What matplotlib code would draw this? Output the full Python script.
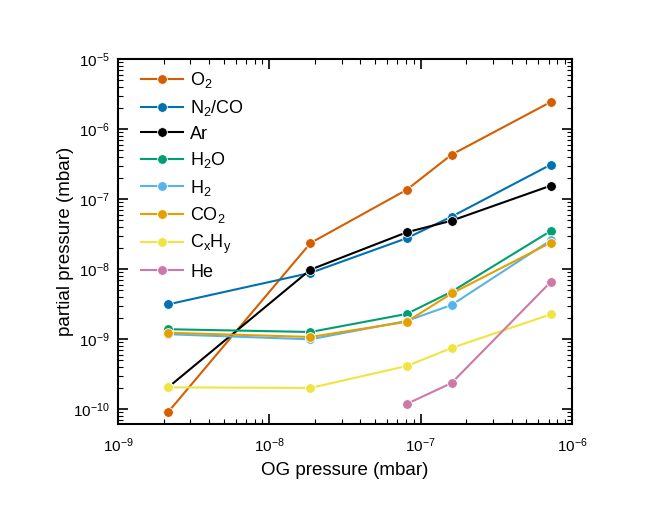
import matplotlib
matplotlib.use('Agg')
import matplotlib.pyplot as plt
import matplotlib.ticker as mticker
import numpy as np

plt.rcParams['font.family'] = ['Liberation Sans', 'DejaVu Sans']
plt.rcParams['mathtext.fontset'] = 'custom'
plt.rcParams['mathtext.rm'] = 'Liberation Sans'
plt.rcParams['mathtext.it'] = 'Liberation Sans'

# OG pressure (mbar)
og = [2.15e-9, 1.87e-8, 8.07e-8, 1.60e-7, 7.23e-7]

o2 = [9.1e-11, 2.35e-8, 1.35e-7, 4.3e-7, 2.43e-6]
n2co = [3.13e-9, 8.8e-9, 2.75e-8, 5.6e-8, 3.09e-7]
ar = [2.05e-10, 9.8e-9, 3.34e-8, 4.9e-8, 1.55e-7]
h2o = [1.38e-9, 1.26e-9, 2.28e-9, 4.74e-9, 3.49e-8]
h2 = [1.17e-9, 0.99e-9, 1.81e-9, 3.06e-9, 2.57e-8]
co2 = [1.23e-9, 1.07e-9, 1.76e-9, 4.47e-9, 2.38e-8]
cxhy = [2.04e-10, 2.0e-10, 4.11e-10, 7.44e-10, 2.25e-9]
he = [1.18e-10, 2.35e-10, 6.52e-9]

x_ticks = [1e-9, 1e-8, 1e-7, 1e-6]
y_ticks = [1e-10, 1e-9, 1e-8, 1e-7, 1e-6, 1e-5]

series = [
    ('O$_2$', og, o2, '#D55E00'),
    ('N$_2$/CO', og, n2co, '#0072B2'),
    ('Ar', og, ar, '#000000'),
    ('H$_2$O', og, h2o, '#009E73'),
    ('H$_2$', og, h2, '#56B4E9'),
    ('CO$_2$', og, co2, '#E69F00'),
    ('C$_\\mathrm{x}$H$_\\mathrm{y}$', og, cxhy, '#F0E442'),
    ('He', og[2:], he, '#CC79A7'),
]

fig = plt.figure(figsize=(6.64, 5.09), dpi=100)
ax = fig.add_axes([118/664, 1-424/509, (572-118)/664, (424-59)/509])

for name, x, y, c in series:
    ax.plot(x, y, '-o', color=c, lw=1.5, ms=7, mec='white', mew=0.6, label=name)

ax.set_xscale('log')
ax.set_yscale('log')
ax.set_xticks(x_ticks)
ax.set_yticks(y_ticks)
ax.set_xlim(1e-9, 1e-6)
ax.set_ylim(10**-10.214, 1e-5)
ax.xaxis.set_major_formatter(mticker.LogFormatterSciNotation())
ax.yaxis.set_major_formatter(mticker.LogFormatterSciNotation())
ax.xaxis.set_minor_formatter(mticker.NullFormatter())
ax.yaxis.set_minor_formatter(mticker.NullFormatter())
ax.xaxis.offsetText.set_visible(False)
ax.yaxis.offsetText.set_visible(False)

ax.tick_params(which='both', direction='in', top=True, right=True, labelsize=11)
ax.tick_params(which='major', length=7, width=1.2)
ax.tick_params(which='minor', length=3.5, width=0.8)
ax.tick_params(axis='x', pad=9)
ax.tick_params(axis='y', pad=6)
for s in ax.spines.values():
    s.set_linewidth(1.5)

ax.set_xlabel('OG pressure (mbar)', fontsize=13.5, labelpad=5)
ax.set_ylabel('partial pressure (mbar)', fontsize=13.5, labelpad=-1)

ax.legend(loc='upper left', bbox_to_anchor=(0.035, 0.9885), borderaxespad=0,
          frameon=False, fontsize=13, handlelength=2.33,
          labelspacing=0.42, handletextpad=0.4)

plt.savefig('out.png', dpi=100)
